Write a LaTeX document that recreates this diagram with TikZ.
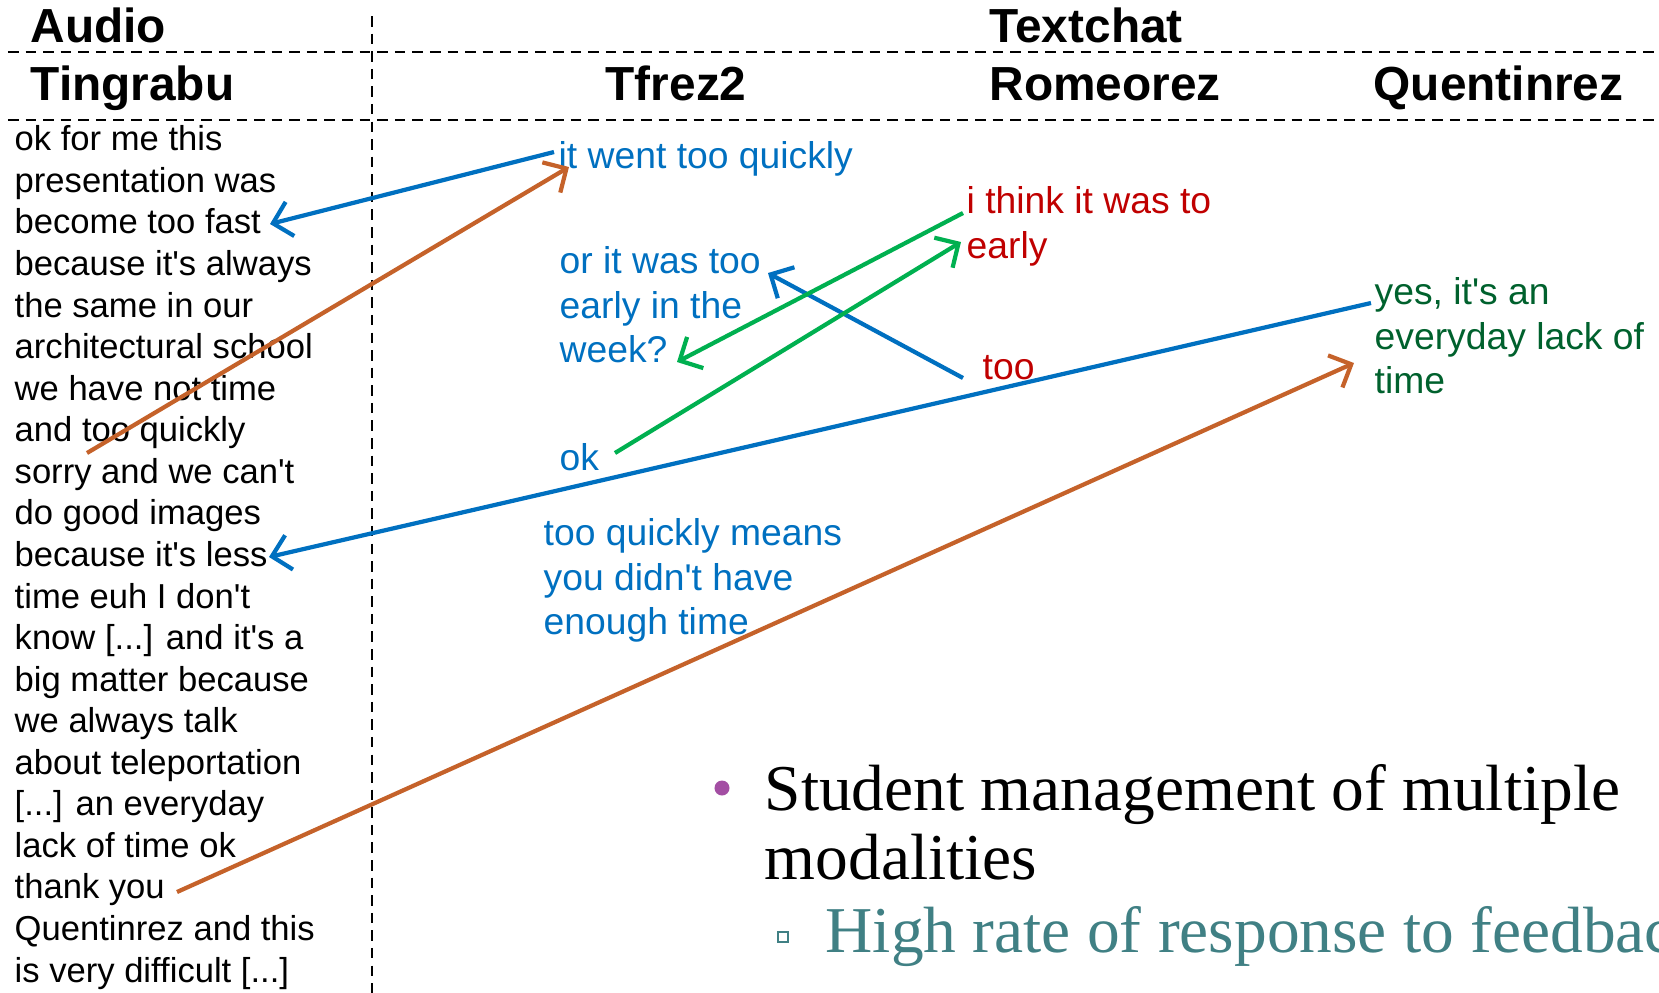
\documentclass[tikz,border=0pt]{standalone}
\usepackage{fontspec}
\setmainfont{Liberation Sans}[Ligatures=TeXOff]
\newfontfamily\slidefont{Liberation Serif}
\usetikzlibrary{arrows.meta}
\definecolor{chatblue}{RGB}{0,112,192}
\definecolor{chatred}{RGB}{192,0,0}
\definecolor{chatgreen}{RGB}{0,176,80}
\definecolor{darkgreen}{RGB}{0,97,45}
\definecolor{rust}{RGB}{197,98,42}
\definecolor{bulletpurple}{RGB}{163,78,163}
\definecolor{slideteal}{RGB}{64,128,132}

\begin{document}
\begin{tikzpicture}[x=0.01cm,y=-0.01cm]
  \tikzset{head/.style = {font=\fontsize{13.6pt}{16pt}\selectfont\bfseries, anchor=base west, inner sep=0pt}}
  \tikzset{talk/.style = {font=\fontsize{9.84pt}{11.82pt}\selectfont, anchor=north west, align=left, inner sep=0pt}}
  \tikzset{chat/.style = {font=\fontsize{10.6pt}{12.66pt}\selectfont, anchor=north west, align=left, inner sep=0pt}}
  \tikzset{slide/.style = {font=\slidefont\fontsize{18.6pt}{19.6pt}\selectfont, anchor=north west, align=left, inner sep=0pt}}
  \tikzset{divider/.style = {line width=0.6pt, dash pattern=on 3pt off 2pt}}
  \tikzset{%
  barb/.tip={Straight Barb[length=5pt,width=10pt]},
}
  \useasboundingbox (0,0) rectangle (1659,993);

	% table frame
	\draw[divider] (8,52) -- (1659,52);
	\draw[divider] (8,120) -- (1659,120);
	\draw[divider] (372,16) -- (372,993);

	\node[head] (audio) at (30,42) {Audio};
	\node[head] (textchat) at (989,42) {Textchat};
	\node[head] (tingrabu) at (30,100) {Tingrabu};
	\node[head] (tfrez) at (605,100) {Tfrez2};
	\node[head] (romeo) at (989,100) {Romeorez};
	\node[head] (quentin) at (1373,100) {Quentinrez};

	\node[talk] (transcript) at (14,125) {ok for me this\\presentation was\\become too fast\\because it's always\\the same in our\\architectural school\\we have not time\\and too quickly\\sorry and we can't\\do good images\\because it's less\\time euh I don't\\know {[...]} and it's a\\big matter because\\we always talk\\about teleportation\\{[...]} an everyday\\lack of time ok\\thank you\\Quentinrez and this\\is very difficult {[...]}};

	\node[chat, anchor=base west, text=chatblue] (quickly) at (558,168) {it went too quickly};
	\node[chat, text=chatred] (think) at (966,186) {i think it was to\\early};
	\node[chat, text=chatblue] (orwas) at (559,246) {or it was too\\early in the\\week?};
	\node[chat, anchor=base west, text=chatred] (too) at (982,379) {too};
	\node[chat, anchor=base west, text=chatblue] (ok) at (559,470) {ok};
	\node[chat, text=chatblue] (means) at (543,518) {too quickly means\\you didn't have\\enough time};
	\node[chat, text=darkgreen] (yes) at (1374,277) {yes, it's an\\everyday lack of\\time};

	% arrow ends
	\coordinate (fast) at (270,224);
	\coordinate (less) at (269,557);
	\coordinate (andtoo) at (87,453);
	\coordinate (thanks) at (177,892);
	\coordinate (quickfrom) at (554,152);
	\coordinate (quicktip) at (569,167);
	\coordinate (yesfrom) at (1371,303);
	\coordinate (yestip) at (1354,363);
	\coordinate (thinkfrom) at (963,213);
	\coordinate (weektip) at (677,362);
	\coordinate (okfrom) at (615,453);
	\coordinate (earlytip) at (961,242);
	\coordinate (toofrom) at (963,378);
	\coordinate (orwastip) at (768,273);

    \foreach \from/\to/\col in {quickfrom/fast/chatblue, yesfrom/less/chatblue, toofrom/orwastip/chatblue, andtoo/quicktip/rust, thanks/yestip/rust, thinkfrom/weektip/chatgreen, okfrom/earlytip/chatgreen}
    \path[-barb, line width=1.2pt](\from) edge[draw=\col] (\to);

	% slide bullets
	\node[circle, fill=bulletpurple, inner sep=0pt, minimum size=0.15cm] (dot) at (722,788) {};
	\node[slide] (student) at (764,764) {Student management of multiple\\modalities};
	\node[draw=slideteal, line width=0.6pt, inner sep=0pt, minimum size=0.1cm] (box) at (783,937) {};
	\begin{scope}
	\clip (0,0) rectangle (1659,993);
	\node[slide, anchor=base west, text=slideteal] (rate) at (825,952) {High rate of response to feedback};
	\end{scope}

\end{tikzpicture}
\end{document}
